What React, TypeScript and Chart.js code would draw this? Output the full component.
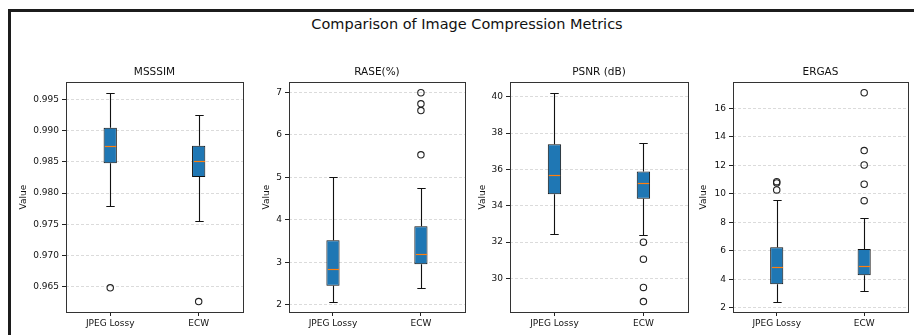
import React, { useEffect, useRef } from 'react';
import { Chart, registerables } from 'chart.js';

Chart.register(...registerables);
Chart.defaults.font.family = "'DejaVu Sans', sans-serif";

// ---------- data ----------
const categories = ['JPEG Lossy', 'ECW'];
const mainTitle = 'Comparison of Image Compression Metrics';
const panelTitles = ['MSSSIM', 'RASE(%)', 'PSNR (dB)', 'ERGAS'];
const yAxisLabel = 'Value';

// each box: [lower whisker, Q1, median, Q3, upper whisker]
const msssimJpeg = [0.978, 0.9848, 0.98752, 0.9905, 0.9961];
const msssimEcw = [0.9755, 0.9826, 0.9851, 0.9876, 0.9925];
const msssimOutliersJpeg = [0.9648];
const msssimOutliersEcw = [0.9626];
const msssimTicks = [0.965, 0.97, 0.975, 0.98, 0.985, 0.99, 0.995];

const raseJpeg = [2.08, 2.45, 2.84, 3.52, 5.0];
const raseEcw = [2.41, 2.96, 3.2, 3.85, 4.76];
const raseOutliersJpeg: number[] = [];
const raseOutliersEcw = [6.99, 6.73, 6.57, 5.53];
const raseTicks = [2, 3, 4, 5, 6, 7];

const psnrJpeg = [32.42, 34.64, 35.72, 37.38, 40.22];
const psnrEcw = [32.39, 34.39, 35.26, 35.88, 37.45];
const psnrOutliersJpeg: number[] = [];
const psnrOutliersEcw = [32.0, 31.06, 29.51, 28.73];
const psnrTicks = [30, 32, 34, 36, 38, 40];

const ergasJpeg = [2.44, 3.66, 4.89, 6.25, 9.55];
const ergasEcw = [3.17, 4.29, 4.96, 6.13, 8.33];
const ergasOutliersJpeg = [10.85, 10.76, 10.27];
const ergasOutliersEcw = [17.09, 13.03, 12.02, 10.67, 9.52];
const ergasTicks = [2, 4, 6, 8, 10, 12, 14, 16];

// ---------- layout / style ----------
const BOX_WIDTH = 0.15; // in category units
const CAP_WIDTH = 0.095;
const BOX_COLOR = '#1f77b4';
const MEDIAN_COLOR = '#ff7f0e';
const INK = '#111111';

interface PanelSpec {
  title: string;
  boxes: number[][];
  outliers: number[][];
  ticks: number[];
  decimals: number;
  left: number;
  width: number;
  yWidth: number;
}

const panels: PanelSpec[] = [
  { title: panelTitles[0], boxes: [msssimJpeg, msssimEcw], outliers: [msssimOutliersJpeg, msssimOutliersEcw], ticks: msssimTicks, decimals: 3, left: 12, width: 236, yWidth: 54 },
  { title: panelTitles[1], boxes: [raseJpeg, raseEcw], outliers: [raseOutliersJpeg, raseOutliersEcw], ticks: raseTicks, decimals: 0, left: 255, width: 215, yWidth: 34 },
  { title: panelTitles[2], boxes: [psnrJpeg, psnrEcw], outliers: [psnrOutliersJpeg, psnrOutliersEcw], ticks: psnrTicks, decimals: 0, left: 471, width: 222, yWidth: 39 },
  { title: panelTitles[3], boxes: [ergasJpeg, ergasEcw], outliers: [ergasOutliersJpeg, ergasOutliersEcw], ticks: ergasTicks, decimals: 0, left: 692, width: 221, yWidth: 41 },
];

const CANVAS_TOP = 60;
const CANVAS_HEIGHT = 275;

const boxPlugin = {
  id: 'boxWhiskers',
  afterDatasetsDraw(chart: any, _args: any, opts: any) {
    const { ctx, chartArea } = chart;
    const xs = chart.scales.x;
    const ys = chart.scales.y;
    const boxes: number[][] = opts.boxes || [];
    const snap = (v: number) => Math.round(v) + 0.5;
    ctx.save();
    boxes.forEach((s, i) => {
      const pos = i + 1;
      const cx = snap(xs.getPixelForValue(pos));
      const capHalf = Math.abs(xs.getPixelForValue(pos + CAP_WIDTH / 2) - xs.getPixelForValue(pos));
      const boxHalf = Math.abs(xs.getPixelForValue(pos + BOX_WIDTH / 2) - xs.getPixelForValue(pos));
      const yLow = snap(ys.getPixelForValue(s[0]));
      const yQ1 = ys.getPixelForValue(s[1]);
      const yMed = snap(ys.getPixelForValue(s[2]));
      const yQ3 = ys.getPixelForValue(s[3]);
      const yHigh = snap(ys.getPixelForValue(s[4]));
      ctx.strokeStyle = INK;
      ctx.lineWidth = 1.1;
      ctx.beginPath();
      ctx.moveTo(cx, yQ1);
      ctx.lineTo(cx, yLow);
      ctx.moveTo(cx, yQ3);
      ctx.lineTo(cx, yHigh);
      ctx.moveTo(cx - capHalf, yLow);
      ctx.lineTo(cx + capHalf, yLow);
      ctx.moveTo(cx - capHalf, yHigh);
      ctx.lineTo(cx + capHalf, yHigh);
      ctx.stroke();
      ctx.strokeStyle = MEDIAN_COLOR;
      ctx.lineWidth = 1.2;
      ctx.beginPath();
      ctx.moveTo(cx - boxHalf + 1, yMed);
      ctx.lineTo(cx + boxHalf - 1, yMed);
      ctx.stroke();
    });
    // spines
    ctx.strokeStyle = '#333333';
    ctx.lineWidth = 1;
    ctx.strokeRect(
      Math.round(chartArea.left) + 0.5,
      Math.round(chartArea.top) + 0.5,
      Math.round(chartArea.right) - Math.round(chartArea.left),
      Math.round(chartArea.bottom) - Math.round(chartArea.top)
    );
    ctx.restore();
  },
};

function Panel({ spec }: { spec: PanelSpec }) {
  const ref = useRef<HTMLCanvasElement | null>(null);
  useEffect(() => {
    if (!ref.current) return;
    const all: number[] = [];
    spec.boxes.forEach((b) => all.push(b[0], b[4]));
    spec.outliers.forEach((o) => all.push(...o));
    const lo = Math.min(...all);
    const hi = Math.max(...all);
    const margin = (hi - lo) * 0.05;

    const outlierPoints: { x: number; y: number }[] = [];
    spec.outliers.forEach((o, i) => o.forEach((v) => outlierPoints.push({ x: i + 1, y: v })));

    const chart = new Chart(ref.current, {
      type: 'bar',
      data: {
        datasets: [
          {
            type: 'bar',
            data: spec.boxes.map((b, i) => ({ x: i + 1, y: [b[1], b[3]] })) as any,
            backgroundColor: BOX_COLOR,
            borderColor: INK,
            borderWidth: 1,
            borderSkipped: false,
            categoryPercentage: 1,
            barPercentage: BOX_WIDTH,
          } as any,
          {
            type: 'scatter',
            data: outlierPoints as any,
            pointRadius: 3.2,
            pointBorderWidth: 1.1,
            borderColor: '#222222',
            backgroundColor: 'rgba(0,0,0,0)',
            pointBackgroundColor: 'rgba(0,0,0,0)',
            pointBorderColor: '#222222',
          } as any,
        ],
      },
      options: {
        responsive: false,
        animation: false,
        devicePixelRatio: 1,
        layout: { padding: { left: 0, right: 1, top: 0, bottom: 0 } },
        plugins: {
          legend: { display: false },
          tooltip: { enabled: false },
          title: {
            display: true,
            fullSize: false,
            text: spec.title,
            color: INK,
            font: { size: 10.5, weight: 'normal' },
            padding: { top: 6, bottom: 3.7 },
          },
          boxWhiskers: { boxes: spec.boxes },
        } as any,
        scales: {
          x: {
            type: 'linear',
            min: 0.5,
            max: 2.5,
            offset: false,
            afterBuildTicks: (s: any) => {
              s.ticks = categories.map((_, i) => ({ value: i + 1 }));
            },
            afterFit: (s: any) => {
              s.height = 23;
            },
            ticks: {
              callback: (v: any) => categories[Math.round(Number(v)) - 1] ?? '',
              font: { size: 9 },
              color: INK,
              padding: 2,
              autoSkip: false,
              maxRotation: 0,
            },
            grid: {
              offset: false,
              drawOnChartArea: false,
              drawTicks: true,
              tickLength: 4,
              tickColor: '#222222',
              tickWidth: 1,
            },
            border: { display: false },
          } as any,
          y: {
            type: 'linear',
            min: lo - margin,
            max: hi + margin,
            afterBuildTicks: (s: any) => {
              s.ticks = spec.ticks.map((v) => ({ value: v }));
            },
            afterFit: (s: any) => {
              s.width = spec.yWidth;
            },
            ticks: {
              callback: (v: any) => Number(v).toFixed(spec.decimals),
              font: { size: 9 },
              color: INK,
              padding: 3,
            },
            grid: {
              offset: false,
              color: '#d2d2d2',
              lineWidth: 0.8,
              tickLength: 4,
              tickColor: '#222222',
              tickWidth: 1,
              tickBorderDash: [],
            },
            border: { display: false, dash: [3, 2] },
            title: {
              display: true,
              text: yAxisLabel,
              color: INK,
              font: { size: 9 },
              padding: { top: 6.5, bottom: 0 },
            },
          } as any,
        },
      },
      plugins: [boxPlugin],
    });
    return () => chart.destroy();
  }, [spec]);

  return (
    <canvas
      ref={ref}
      width={spec.width}
      height={CANVAS_HEIGHT}
      style={{ position: 'absolute', left: spec.left, top: CANVAS_TOP, width: spec.width, height: CANVAS_HEIGHT }}
    />
  );
}

export default function App() {
  return (
    <div
      style={{
        position: 'fixed',
        left: 0,
        top: 0,
        width: 914,
        height: 335,
        background: '#ffffff',
        overflow: 'hidden',
        fontFamily: "'DejaVu Sans', sans-serif",
      }}
    >
      <div
        style={{
          position: 'absolute',
          left: 8,
          top: 9,
          width: 1200,
          height: 1200,
          border: '3px solid #1c1c1c',
          boxSizing: 'border-box',
        }}
      />
      <div
        style={{
          position: 'absolute',
          left: 467,
          top: 15.5,
          transform: 'translateX(-50%)',
          whiteSpace: 'nowrap',
          fontSize: 14.5,
          lineHeight: '17px',
          color: INK,
        }}
      >
        {mainTitle}
      </div>
      {panels.map((p) => (
        <Panel key={p.title} spec={p} />
      ))}
    </div>
  );
}
